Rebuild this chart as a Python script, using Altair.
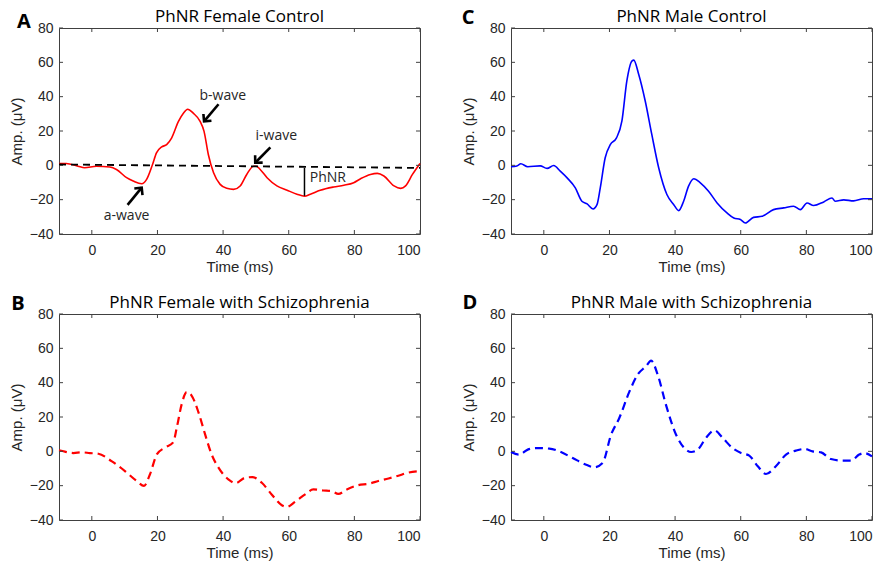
import altair as alt
import pandas as pd

# ---------------- data ----------------
fc_t = [-10, -7.8, -4.2, -2.2, 1.4, 5.5, 7.5, 10.6, 12.6, 15.2, 16.7, 18.5, 19.7, 21.3, 22.8, 24.3,
        26.4, 27.9, 29.2, 30.9, 33.0, 34.2, 35.5, 37.1, 39.1, 41.1, 43.2, 45.2, 47.2, 49.3, 50.1,
        51.3, 53.4, 56.4, 59.5, 62.5, 64.8, 66.6, 69.6, 73.7, 76.8, 79.8, 81.9, 84.9, 87.0, 89.0,
        92.1, 94.1, 95.6, 97.7, 100]
fc_amp = [1.1, 1.1, -0.5, -1.4, -0.5, -1.0, -2.4, -7.2, -9.1, -10.7, -8.2, 0.5, 7.3, 10.7, 12.1, 15.9,
          25.6, 30.4, 32.7, 30.4, 25.6, 19.8, 6.3, -4.3, -11.1, -13.4, -14.0, -12.0, -5.3, -0.5, -0.5,
          -2.4, -7.2, -12.0, -14.5, -16.8, -18.0, -16.8, -14.5, -12.6, -11.6, -10.1, -7.8, -5.3, -4.7,
          -6.2, -12.0, -13.4, -12.0, -5.3, 1.1]

mc_t = [-10, -8.2, -7.0, -4.9, -1.1, 1.0, 3.0, 5.0, 7.1, 9.6, 11.6, 13.2, 15.0, 16.2, 17.2, 18.7,
        20.3, 22.1, 23.8, 25.3, 26.9, 27.4, 28.9, 30.9, 32.9, 35.0, 37.5, 39.6, 41.1, 42.6, 44.1,
        45.7, 47.7, 50.2, 52.8, 55.8, 57.9, 59.9, 61.4, 63.9, 66.5, 70.0, 73.1, 76.1, 78.2, 80.2,
        82.2, 85.3, 87.8, 88.8, 91.4, 94.4, 97.5, 100]
mc_amp = [-0.8, -0.4, 0.9, -0.8, -0.3, -1.8, -0.1, -3.4, -7.3, -13.1, -20.9, -22.5, -25.4, -22.9,
          -13.1, 4.4, 12.2, 15.8, 25.9, 49.2, 60.9, 61.3, 53.1, 37.5, 18.0, -1.4, -17.0, -22.9,
          -26.4, -20.9, -12.1, -7.8, -10.2, -15.1, -21.9, -27.7, -30.7, -31.6, -33.6, -30.3, -29.7,
          -25.8, -24.8, -23.8, -25.8, -21.9, -23.4, -21.3, -19.0, -20.9, -20.1, -20.7, -19.5, -19.5]

fs_t = [-10, -8.2, -5.6, -3.1, -0.6, 2.0, 6.0, 10.1, 13.7, 15.9, 17.7, 19.8, 22.3, 24.8, 25.9, 27.4,
        28.9, 30.4, 32.5, 34.5, 36.5, 38.6, 41.6, 43.8, 46.7, 48.9, 51.8, 54.8, 57.9, 59.4, 61.9,
        65.0, 67.5, 70.5, 73.1, 75.1, 77.7, 81.2, 84.3, 87.3, 90.4, 93.4, 96.4, 100]
fs_amp = [0.6, -0.2, -1.0, -0.6, -1.0, -1.4, -5.7, -11.5, -17.3, -20.1, -13.5, -1.8, 2.2, 5.2, 13.9,
          27.6, 34.5, 32.5, 22.7, 10.0, -1.8, -9.5, -16.3, -18.5, -15.4, -15.0, -18.3, -25.1, -31.4,
          -32.4, -29.4, -25.1, -22.2, -22.8, -23.2, -24.8, -22.2, -19.7, -18.9, -17.3, -15.8, -14.2,
          -12.4, -11.5]

ms_t = [-10, -7.5, -4.9, -2.4, 1.7, 4.7, 8.8, 12.9, 15.4, 17.9, 20.5, 23.0, 26.1, 28.6, 31.1, 32.7,
        34.7, 37.2, 40.3, 42.8, 44.9, 46.9, 49.4, 52.0, 54.5, 57.5, 60.1, 62.6, 65.2, 67.7, 70.7,
        73.8, 76.8, 79.4, 81.9, 84.5, 87.5, 91.1, 93.6, 96.1, 97.7, 100]
ms_amp = [-0.4, -1.9, 1.0, 1.9, 1.6, 0.0, -3.9, -7.8, -9.3, -6.8, 9.7, 19.4, 34.9, 44.7, 49.5, 52.8,
          44.7, 27.2, 9.7, 1.9, -0.4, 1.0, 7.8, 12.2, 7.8, 1.9, -1.0, -2.5, -8.7, -13.2, -8.7, -1.9,
          0.4, 1.4, 0.0, -0.6, -4.5, -5.4, -5.4, -1.9, -1.0, -2.9]

x_ticks = [0, 20, 40, 60, 80, 100]
y_ticks = [-40, -20, 0, 20, 40, 60, 80]

# annotations for panel A
base_t = [-10, 100]
base_amp = [0.5, -1.5]
arrow_label = ["a-wave", "b-wave", "i-wave"]
arrow_tail_t = [10.9, 38.6, 54.4]
arrow_tail_amp = [-23.0, 35.6, 10.5]
arrow_head_t = [15.2, 34.2, 49.8]
arrow_head_amp = [-13.0, 25.6, 1.5]
arrow_angle = [39, 220, 224]
label_t = [10.6, 39.9, 56.2]
label_amp = [-29.4, 40.6, 16.9]
phnr_t = [64.8]
phnr_top = [-1.5]
phnr_bottom = [-17.8]
phnr_label_t = [66.4]
phnr_label_amp = [-7.2]

W, H = 361, 206
FRAME = "#404040"
TXT = "#262626"

xs = alt.Scale(domain=[-10, 100], nice=False, zero=False)
ys = alt.Scale(domain=[-40, 80], nice=False, zero=False)
x_axis = alt.Axis(values=x_ticks, labelPadding=9, titlePadding=2)
y_axis = alt.Axis(values=y_ticks, labelPadding=6, titlePadding=5)


def X(field):
    return alt.X(field, type="quantitative", scale=xs, title="Time (ms)", axis=x_axis)


def Y(field):
    return alt.Y(field, type="quantitative", scale=ys, title="Amp. (μV)", axis=y_axis)


def tick_layers():
    xt = pd.DataFrame({"t": x_ticks})
    yt = pd.DataFrame({"amp": y_ticks})
    layers = []
    for y0, y1 in [(H, H - 4), (0, 4)]:
        layers.append(alt.Chart(xt).mark_rule(color=FRAME, strokeWidth=1).encode(
            x=X("t"), y=alt.value(y0), y2=alt.value(y1)))
    for x0, x1 in [(0, 4), (W, W - 4)]:
        layers.append(alt.Chart(yt).mark_rule(color=FRAME, strokeWidth=1).encode(
            y=Y("amp"), x=alt.value(x0), x2=alt.value(x1)))
    return layers


def panel(t, amp, color, dashed, title, letter, ldx, ldy, extra=None):
    df = pd.DataFrame({"t": t, "amp": amp})
    style = dict(color=color, strokeWidth=2.2 if dashed else 1.6, interpolate="monotone")
    if dashed:
        style["strokeDash"] = [8, 5]
    line = alt.Chart(df).mark_line(**style).encode(x=X("t"), y=Y("amp"))
    lab = alt.Chart(pd.DataFrame({"l": [letter]})).mark_text(
        font="Open Sans", fontWeight="bold", fontSize=20, color="black",
        align="center", baseline="middle").encode(
        text="l:N", x=alt.value(ldx), y=alt.value(ldy))
    layers = [line] + tick_layers() + (extra or []) + [lab]
    # the title is placed relative to the plot top, whatever the letter's height
    off = ldy - 8
    return alt.layer(*layers).properties(
        width=W, height=H,
        title=alt.TitleParams(title, font="Open Sans", fontSize=17, fontWeight="normal",
                              color="black", offset=off, anchor="middle"))


# panel A annotations
base_df = pd.DataFrame({"t": base_t, "amp": base_amp})
arr_df = pd.DataFrame({"t": arrow_tail_t, "amp": arrow_tail_amp,
                       "t2": arrow_head_t, "amp2": arrow_head_amp,
                       "ang": arrow_angle, "lt": label_t, "la": label_amp,
                       "label": arrow_label})
ph_df = pd.DataFrame({"t": phnr_t, "amp": phnr_top, "amp2": phnr_bottom,
                      "lt": phnr_label_t, "la": phnr_label_amp, "label": ["PhNR"]})

extra_a = [
    alt.Chart(base_df).mark_line(color="black", strokeWidth=1.8, strokeDash=[7, 5]).encode(
        x=X("t"), y=Y("amp")),
    alt.Chart(arr_df).mark_rule(color="black", strokeWidth=2.6).encode(
        x=X("t"), y=Y("amp"), x2="t2:Q", y2="amp2:Q"),
    alt.Chart(arr_df).mark_point(shape="M -1 1 L 0 0 L 1 1", filled=False, size=110,
                                 color="black", strokeWidth=2.6, opacity=1).encode(
        x=X("t2"), y=Y("amp2"), angle=alt.Angle("ang:Q", scale=None)),
    alt.Chart(arr_df).mark_text(font="Open Sans", fontSize=14, color=TXT,
                                align="center", baseline="middle").encode(
        x=X("lt"), y=Y("la"), text="label:N"),
    alt.Chart(ph_df).mark_rule(color="black", strokeWidth=1.5).encode(
        x=X("t"), y=Y("amp"), y2="amp2:Q"),
    alt.Chart(ph_df).mark_text(font="Open Sans", fontSize=14, color=TXT,
                               align="left", baseline="middle").encode(
        x=X("lt"), y=Y("la"), text="label:N"),
]

pA = panel(fc_t, fc_amp, "#ff0000", False, "PhNR Female Control", "A", -35, -6, extra_a)
pB = panel(fs_t, fs_amp, "#ff0000", True, "PhNR Female with Schizophrenia", "B", -41, -10)
pC = panel(mc_t, mc_amp, "#0000ff", False, "PhNR Male Control", "C", -43, -10)
pD = panel(ms_t, ms_amp, "#0000ff", True, "PhNR Male with Schizophrenia", "D", -41, -11)

chart = alt.vconcat(
    alt.hconcat(pA, pC, spacing=35),
    alt.hconcat(pB, pD, spacing=35),
    spacing=17,
).properties(
    padding={"left": 8, "top": 7, "right": 4, "bottom": 0},
    background="white",
).configure_view(
    stroke=FRAME, strokeWidth=1
).configure_axis(
    labelFont="Liberation Sans", labelFontSize=14, labelColor=TXT,
    titleFont="Liberation Sans", titleFontSize=15, titleFontWeight="normal", titleColor=TXT,
    ticks=False, domain=False, grid=False,
)

chart.save("out.html", embed_options={"renderer": "svg", "actions": False})
